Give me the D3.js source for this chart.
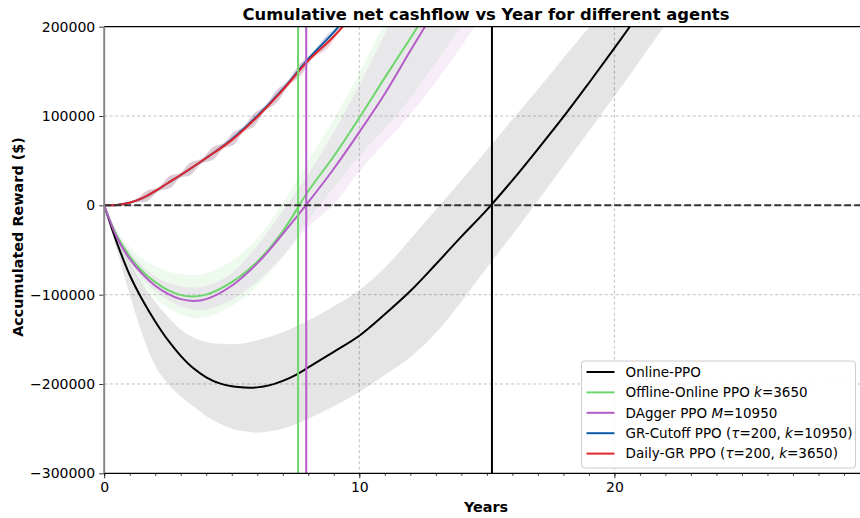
<!DOCTYPE html>
<html>
<head>
<meta charset="utf-8">
<script src="https://cdn.jsdelivr.net/npm/d3@7"></script>
<style>
  body { margin: 0; background: #fff; }
  svg { display: block; font-family: "DejaVu Sans", sans-serif; }
</style>
</head>
<body>
<div id="chart"></div>
<script>
var width = 860, height = 518;
var margin = { top: 26.7, left: 104.2, bottom: 473.3, right: 869.5 };

// online ppo (years, mean, band)
var onlineYears = [0,0.5,1,1.5,2,2.5,3,3.5,4,4.5,5,5.5,6,6.5,7,7.5,8,9,10,11,12,13,14,15,16,17,18,19,20,21,22];
var onlineMean  = [0,-42000,-78000,-106000,-130000,-151000,-168500,-182500,-192500,-199000,-202500,-204000,-203800,-201300,-196500,-190000,-181500,-164000,-146000,-122000,-96000,-66000,-35000,-5000,28000,63000,99000,137000,176000,216000,258000];
var onlineUpper = [0,-36000,-64000,-88000,-108000,-125000,-139000,-148000,-153000,-155000,-155500,-154500,-151000,-147000,-142000,-136000,-129000,-113000,-95000,-70000,-38000,-5000,28000,62000,96000,130000,165000,199000,235000,272000,310000];
var onlineLower = [0,-50000,-100000,-145000,-180000,-200000,-214000,-225000,-236000,-244000,-250000,-253000,-254500,-253000,-250000,-245000,-239000,-225000,-209000,-190000,-170000,-143000,-108000,-70000,-33000,5000,44000,83000,122000,162000,202000];

// offline-online and dagger
var pretrainYears = [0,0.5,1,1.5,2,2.5,3,3.5,4,5,6,7,8,9,10,11,12,13,14,15];
var offlineMean  = [0,-34000,-57000,-74000,-86000,-95000,-100500,-102000,-100000,-86000,-63000,-29000,16000,55000,98000,143000,187000,232000,278000,324000];
var offlineUpper = [0,-28000,-47000,-60000,-68000,-74000,-77000,-78000,-76000,-62000,-37000,3000,50000,97000,148000,205000,260000,315000,370000,425000];
var offlineLower = [0,-40000,-68000,-89000,-104000,-115000,-122000,-126000,-125000,-113000,-90000,-58000,-17000,20000,55000,86000,120000,160000,200000,240000];
var daggerMean  = [0,-36000,-60000,-77000,-90000,-99000,-105000,-107000,-105000,-90000,-65000,-32000,3500,41000,82000,125000,173000,220000,268000,316000];
var daggerUpper = [0,-32000,-52000,-68000,-80000,-87000,-91000,-92000,-90000,-76000,-45000,-6000,35000,82000,135000,192000,255000,310000,365000,420000];
var daggerLower = [0,-38000,-64000,-82000,-96000,-106000,-113000,-117000,-117000,-106000,-85000,-57000,-24000,1000,38000,70000,102000,138000,178000,220000];

// gr agents
var grYears = [0,0.5,1,1.5,2,2.5,3,4,5,6,7,8,9,10];
var cutoffMean = [0,500,3000,8000,16000,25000,34000,53000,74000,100000,130000,164000,194000,228000];
var dailyMean  = [0,500,3000,8000,16000,25000,34000,53000,73000,99000,129000,162000,189000,222000];
var grBandYears = [0,1.2,1.67,2.13,2.59,2.98,3.37,3.82,4.28,4.68,5.07,5.46,5.85,6.31,6.77,7.22,7.68,8.2,8.72,9.2,9.6];
var cutoffUpper = [0,6000,16000,20000,33000,36000,47500,52500,65000,70000,82000,88500,102500,112000,129500,140500,159000,172000,191000,201000,219000];
var cutoffLower = [0,3000,4500,15500,19000,30500,33500,46500,51000,63500,67500,82000,88000,105500,115000,134500,145000,166000,177000,197000,207000];
var dailyUpper  = [0,6500,16700,20500,33600,36100,48000,52100,65600,69100,81800,87500,102100,110800,129100,138800,158400,169900,188400,198100,215000];
var dailyLower  = [0,3500,4700,16100,19600,31100,34000,47100,51600,64100,67800,82500,88100,105800,115100,133800,144400,164900,174400,193100,203000];

// years where each agent breaks even: online, offline-online, dagger
var breakEvenYears = [15.2, 7.6, 7.92];

var xTicks = [0, 10, 20];
var yTicks = [-300000, -200000, -100000, 0, 100000, 200000];

var colors = { online: "#000000", offline: "#6cd66c", dagger: "#b45cc8", cutoff: "#0d5aa7", daily: "#e3262b" };

var x = d3.scaleLinear().domain([0, 30]).range([margin.left, margin.right]);
var y = d3.scaleLinear().domain([-300000, 200000]).range([margin.bottom, margin.top]);

var svg = d3.select("#chart").append("svg")
    .attr("width", width)
    .attr("height", height);

svg.append("defs").append("clipPath").attr("id", "plot")
  .append("rect")
    .attr("x", margin.left).attr("y", margin.top)
    .attr("width", margin.right - margin.left)
    .attr("height", margin.bottom - margin.top);

// grid
var grid = svg.append("g").attr("stroke", "#b0b0b0").attr("stroke-width", 0.8).attr("stroke-dasharray", "3,2.5");
grid.selectAll(".gx").data(xTicks.slice(1)).enter().append("line")
  .attr("x1", function(d) { return x(d); }).attr("x2", function(d) { return x(d); })
  .attr("y1", margin.top).attr("y2", margin.bottom);
grid.selectAll(".gy").data(yTicks.slice(1, -1)).enter().append("line")
  .attr("y1", function(d) { return y(d); }).attr("y2", function(d) { return y(d); })
  .attr("x1", margin.left).attr("x2", margin.right);

var plot = svg.append("g").attr("clip-path", "url(#plot)");

var zip = function(xs, a, b) {
  return xs.map(function(t, i) { return { t: t, a: a[i], b: b ? b[i] : null }; });
};

var area = d3.area().curve(d3.curveCatmullRom.alpha(0.5))
  .x(function(d) { return x(d.t); })
  .y0(function(d) { return y(d.b); })
  .y1(function(d) { return y(d.a); });

var line = d3.line().curve(d3.curveCatmullRom.alpha(0.5))
  .x(function(d) { return x(d.t); })
  .y(function(d) { return y(d.a); });

var series = [
  { key: "online",  xs: onlineYears,   mean: onlineMean,  up: onlineUpper,  lo: onlineLower,  bx: onlineYears,  op: 0.1 },
  { key: "offline", xs: pretrainYears, mean: offlineMean, up: offlineUpper, lo: offlineLower, bx: pretrainYears, op: 0.11 },
  { key: "dagger",  xs: pretrainYears, mean: daggerMean,  up: daggerUpper,  lo: daggerLower,  bx: pretrainYears, op: 0.11 },
  { key: "cutoff",  xs: grYears,       mean: cutoffMean,  up: cutoffUpper,  lo: cutoffLower,  bx: grBandYears,  op: 0.15 },
  { key: "daily",   xs: grYears,       mean: dailyMean,   up: dailyUpper,   lo: dailyLower,   bx: grBandYears,  op: 0.15 }
];

// bands
series.forEach(function(s) {
  plot.append("path")
    .datum(zip(s.bx, s.up, s.lo))
    .attr("d", area)
    .attr("fill", colors[s.key])
    .attr("fill-opacity", s.op);
});

// mean lines
series.forEach(function(s) {
  plot.append("path")
    .datum(zip(s.xs, s.mean))
    .attr("d", line)
    .attr("fill", "none")
    .attr("stroke", colors[s.key])
    .attr("stroke-width", 2);
});

// break even markers
plot.selectAll(".be").data(breakEvenYears).enter().append("line")
  .attr("x1", function(d) { return x(d); }).attr("x2", function(d) { return x(d); })
  .attr("y1", margin.top).attr("y2", margin.bottom)
  .attr("stroke", function(d, i) { return [colors.online, colors.offline, colors.dagger][i]; })
  .attr("stroke-width", 2);

// zero line
plot.append("line")
  .attr("x1", margin.left).attr("x2", margin.right)
  .attr("y1", y(0)).attr("y2", y(0))
  .attr("stroke", "#333").attr("stroke-width", 2)
  .attr("stroke-dasharray", "7,3");

// axes
var xAxis = svg.append("g")
  .attr("transform", "translate(0," + margin.bottom + ")")
  .call(d3.axisBottom(x).tickValues(xTicks).tickSize(5).tickPadding(4));
svg.append("g")
  .attr("transform", "translate(0," + margin.bottom + ")")
  .call(d3.axisBottom(x).tickValues(d3.range(0, 31)).tickSize(2.5).tickFormat(""))
  .call(function(g) { g.select(".domain").remove(); });

var yAxis = svg.append("g")
  .attr("transform", "translate(" + margin.left + ",0)")
  .call(d3.axisLeft(y).tickValues(yTicks).tickSize(5).tickPadding(4)
    .tickFormat(function(d) { return d < 0 ? "\u2212" + Math.abs(d) : d; }));

svg.selectAll(".tick text").attr("font-size", 14).attr("font-family", "DejaVu Sans").attr("fill", "#000");
svg.selectAll(".tick line").attr("stroke", "#000").attr("stroke-width", 0.8);
xAxis.select(".domain").remove();
yAxis.select(".domain").remove();

// spines
svg.append("line").attr("x1", margin.left).attr("x2", margin.right).attr("y1", margin.top).attr("y2", margin.top)
  .attr("stroke", "#000").attr("stroke-width", 1.2);
svg.append("line").attr("x1", margin.left).attr("x2", margin.right).attr("y1", margin.bottom).attr("y2", margin.bottom)
  .attr("stroke", "#000").attr("stroke-width", 1.2);
svg.append("line").attr("x1", margin.left).attr("x2", margin.left).attr("y1", margin.top).attr("y2", margin.bottom)
  .attr("stroke", "#888").attr("stroke-width", 2);

// titles
svg.append("text")
  .attr("x", 486).attr("y", 20)
  .attr("text-anchor", "middle").attr("font-size", 16.4).attr("font-weight", "bold")
  .text("Cumulative net cashflow vs Year for different agents");

svg.append("text")
  .attr("x", 486).attr("y", 512)
  .attr("text-anchor", "middle").attr("font-size", 14.4).attr("font-weight", "bold")
  .text("Years");

svg.append("text")
  .attr("transform", "translate(23,237) rotate(-90)")
  .attr("text-anchor", "middle").attr("font-size", 14.4).attr("font-weight", "bold")
  .text("Accumulated Reward ($)");

// legend
var legendItems = [
  { key: "online",  parts: [["Online-PPO", false]] },
  { key: "offline", parts: [["Offline-Online PPO ", false], ["k", true], ["=3650", false]] },
  { key: "dagger",  parts: [["DAgger PPO ", false], ["M", true], ["=10950", false]] },
  { key: "cutoff",  parts: [["GR-Cutoff PPO (", false], ["\u03c4", true], ["=200, ", false], ["k", true], ["=10950)", false]] },
  { key: "daily",   parts: [["Daily-GR PPO (", false], ["\u03c4", true], ["=200, ", false], ["k", true], ["=3650)", false]] }
];

var legend = svg.append("g").attr("transform", "translate(581.5,361)");
legend.append("rect")
  .attr("width", 274).attr("height", 107).attr("rx", 3)
  .attr("fill", "#fff").attr("fill-opacity", 0.85)
  .attr("stroke", "#cccccc").attr("stroke-width", 1);

var rows = legend.selectAll(".row").data(legendItems).enter().append("g")
  .attr("transform", function(d, i) { return "translate(0," + (11 + i * 20.4) + ")"; });
rows.append("line")
  .attr("x1", 5).attr("x2", 33)
  .attr("stroke", function(d) { return colors[d.key]; })
  .attr("stroke-width", 2);
var texts = rows.append("text").attr("x", 44).attr("y", 4.8).attr("font-size", 13.5);
texts.each(function(d) {
  var t = d3.select(this);
  d.parts.forEach(function(p) {
    t.append("tspan").attr("font-style", p[1] ? "italic" : null).text(p[0]);
  });
});
</script>
</body>
</html>
